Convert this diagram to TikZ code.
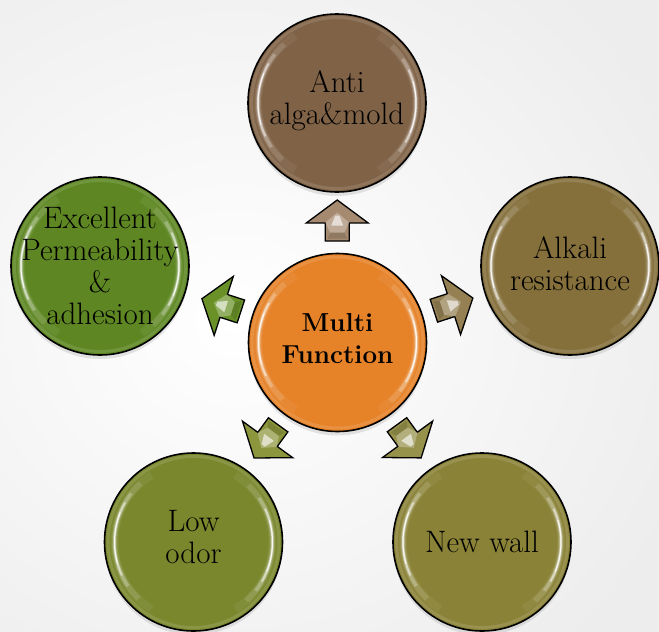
\documentclass[tikz,border=0pt]{standalone}
\usetikzlibrary{shadows,calc}
\definecolor{cCenter}{RGB}{230,130,40}
\definecolor{cTop}{RGB}{128,98,70}
\definecolor{cLeft}{RGB}{94,135,35}
\definecolor{cRight}{RGB}{133,112,60}
\definecolor{cBL}{RGB}{122,135,45}
\definecolor{cBR}{RGB}{138,130,55}
\definecolor{aTop}{RGB}{165,138,112}
\definecolor{aLeft}{RGB}{105,145,40}
\definecolor{aRight}{RGB}{148,128,82}
\definecolor{aBL}{RGB}{140,150,60}
\definecolor{aBR}{RGB}{150,145,75}
\tikzset{
  bubble/.style={circle, minimum size=178pt, inner sep=0pt, draw=black, line width=1.6pt, fill=#1,
    drop shadow={opacity=0.2, shadow xshift=0pt, shadow yshift=-4pt}},
  lbl/.style={align=center, font=\fontsize{31}{32}\selectfont, inner sep=0pt},
  arrowbody/.style={draw=black, line width=1.3pt, line join=miter, fill=#1},
}
\newcommand\glossy[1]{%
  \draw[white, opacity=0.12, line width=3pt] (#1.center) circle (85.5pt);
  \foreach \w/\o/\a/\b in {8/0.06/122/238, 5.5/0.12/132/226, 3.5/0.25/142/214, 2/0.5/150/205, 1/0.85/158/196}{
    \draw[white, line width=\w pt, opacity=\o] (#1.center) ++(\a:79pt) arc[start angle=\a, end angle=\b, radius=79pt];
    \draw[white, line width=\w pt, opacity=\o] (#1.center) ++(\a-180:79pt) arc[start angle=\a-180, end angle=\b-180, radius=79pt];
  }%
}
\newcommand\blockarrow[3]{%
  \begin{scope}[shift={(#1)}, rotate=#2]
    \path[arrowbody=#3] (20.5,0) -- (-2.5,31) -- (-2.5,12) -- (-20.5,12) -- (-20.5,-12) -- (-2.5,-12) -- (-2.5,-31) -- cycle;
    \fill[white, opacity=0.28] (8,0) -- (-2,12) -- (-12,7) -- (-12,-7) -- (-2,-12) -- cycle;
    \fill[black, opacity=0.12] (-12,7) -- (-12,-7) -- (-18,-10) -- (-18,10) -- cycle;
    \fill[white, opacity=0.6] (-5,-6) -- (5,-2) -- (5,2) -- (-5,6) -- cycle;
  \end{scope}%
}
\begin{document}
\begin{tikzpicture}[x=1pt,y=1pt]
  \useasboundingbox (0,0) rectangle (659,-632);
  \clip (0,0) rectangle (659,-632);
  \shade[inner color=white, outer color=black!7] (-250,120) rectangle (720,-760);

  \node[bubble=cCenter] (C) at (337.5,-342.5) {};
  \node[bubble=cTop] (T) at (337,-103) {};
  \node[bubble=cLeft] (L) at (100,-266) {};
  \node[bubble=cRight] (R) at (570,-266) {};
  \node[bubble=cBL] (BL) at (193.5,-542) {};
  \node[bubble=cBR] (BR) at (482,-542) {};

  \glossy{C}\glossy{T}\glossy{L}\glossy{R}\glossy{BL}\glossy{BR}

  \coordinate (aT) at ($(C)!122pt!(T)$);
  \coordinate (aL) at ($(C)!122pt!(L)$);
  \coordinate (aR) at ($(C)!122pt!(R)$);
  \coordinate (aBL) at ($(C)!122pt!(BL)$);
  \coordinate (aBR) at ($(C)!122pt!(BR)$);
  \blockarrow{aT}{90}{aTop}
  \blockarrow{aL}{162}{aLeft}
  \blockarrow{aR}{18}{aRight}
  \blockarrow{aBL}{234}{aBL}
  \blockarrow{aBR}{306}{aBR}

  \node[lbl, font=\fontsize{26}{32}\selectfont\bfseries] (tC) at ($(C)+(0,4)$) {Multi\\Function};
  \node[lbl] (tT) at ($(T)+(0,2)$) {Anti\\alga\&mold};
  \node[lbl] (tL) at (L) {Excellent\\Permeability\\\&\\adhesion};
  \node[lbl] (tR) at ($(R)+(0,2)$) {Alkali\\resistance};
  \node[lbl] (tBL) at ($(BL)+(0,5)$) {Low\\odor};
  \node[lbl] (tBR) at (BR) {New wall};
\end{tikzpicture}
\end{document}
